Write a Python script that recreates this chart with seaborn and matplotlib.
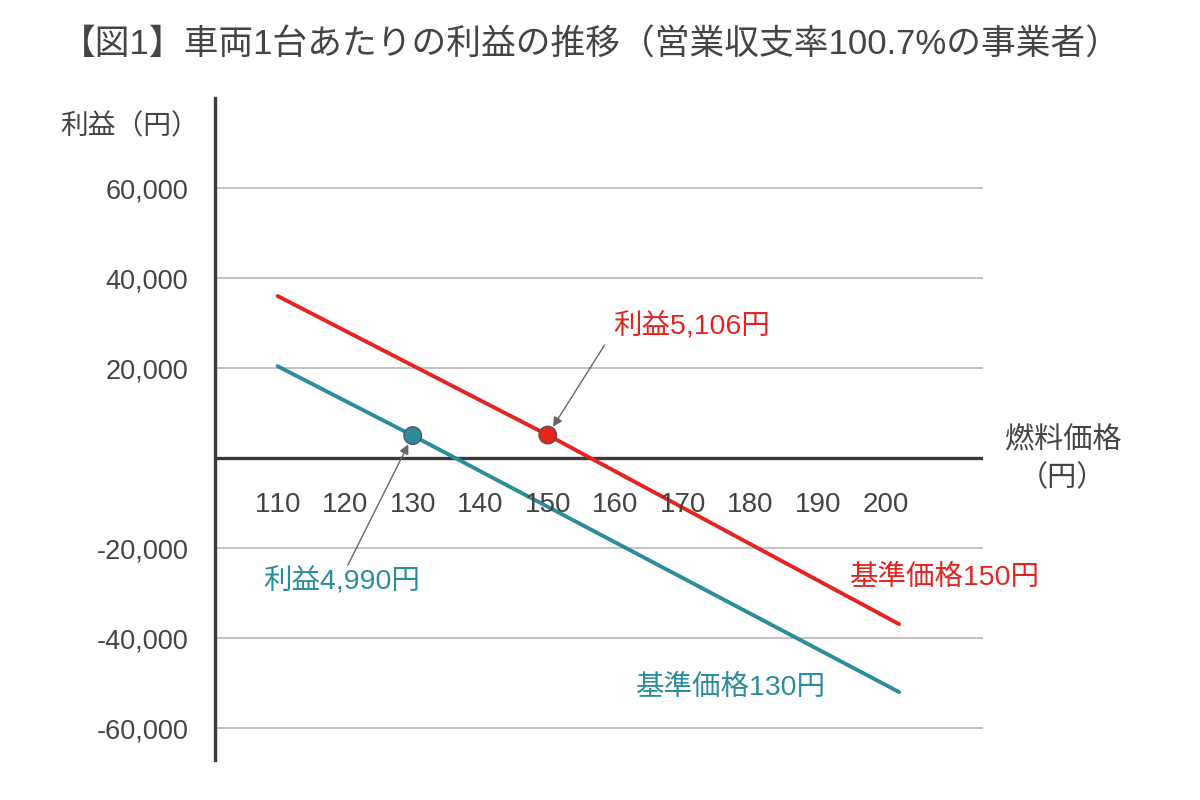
import pandas as pd
import matplotlib.pyplot as plt
import seaborn as sns

# data
fuel_red = [110, 150, 202]
profit_red = [36000, 5106, -36900]
fuel_teal = [110, 130, 202]
profit_teal = [20400, 4990, -52000]

point_x = [150, 130]
point_y = [5106, 4990]
point_series = ['基準価格150円', '基準価格130円']

x_ticks = [110, 120, 130, 140, 150, 160, 170, 180, 190, 200]
y_ticks = [-60000, -40000, -20000, 20000, 40000, 60000]
y_tick_labels = ['-60,000', '-40,000', '-20,000', '20,000', '40,000', '60,000']

RED = '#e5231f'
TEAL = '#2b8c9c'
TXT = '#444444'

sns.set_style('white')
plt.rcParams['font.family'] = ['Liberation Sans', 'Noto Sans CJK JP', 'DejaVu Sans']
plt.rcParams['text.kerning_factor'] = 6

df = pd.concat([
    pd.DataFrame({'fuel': fuel_red, 'profit': profit_red, 'series': '基準価格150円'}),
    pd.DataFrame({'fuel': fuel_teal, 'profit': profit_teal, 'series': '基準価格130円'}),
])
pts = pd.DataFrame({'fuel': point_x, 'profit': point_y, 'series': point_series})
palette = {'基準価格150円': RED, '基準価格130円': TEAL}

fig = plt.figure(figsize=(12, 8), dpi=100)
ax = fig.add_axes([0.179, 0.05, 0.64, 0.8275])

# grid + zero line
for v in y_ticks:
    ax.axhline(v, color='#bdbdbd', lw=1.3, zorder=0)
ax.axhline(0, color='#3a3a3a', lw=2.4, zorder=1)

sns.lineplot(data=df, x='fuel', y='profit', hue='series', palette=palette,
             lw=2.8, legend=False, ax=ax, zorder=2)
sns.scatterplot(data=pts, x='fuel', y='profit', hue='series', palette=palette,
                s=160, edgecolor='#555555', linewidth=1.0, legend=False, ax=ax, zorder=3)

ax.set_xlim(100.7, 214.4)
ax.set_ylim(-67100, 80000)

ax.set_yticks(y_ticks)
ax.set_yticklabels(y_tick_labels)
ax.tick_params(axis='y', length=0, pad=19, labelsize=19.5, labelcolor=TXT)
ax.set_xticks([])
ax.set_xlabel('')
ax.set_ylabel('')

for x in x_ticks:
    ax.text(x, -10440, str(x), ha='center', va='center', fontsize=20, color=TXT)

for side in ['top', 'right', 'bottom']:
    ax.spines[side].set_visible(False)
ax.spines['left'].set_color('#3a3a3a')
ax.spines['left'].set_linewidth(2.4)

# annotations
ax.annotate('', xy=(150, 5106), xytext=(158.4, 25100),
            arrowprops=dict(arrowstyle='-|>', color='#666666', lw=1.0, shrinkA=0, shrinkB=7,
                            mutation_scale=14))
ax.text(171.3, 29100, '利益5,106円', ha='center', va='center', fontsize=20.5, color=RED)
ax.annotate('', xy=(130, 4990), xytext=(120.4, -23800),
            arrowprops=dict(arrowstyle='-|>', color='#666666', lw=1.0, shrinkA=0, shrinkB=7,
                            mutation_scale=14))
ax.text(119.5, -27600, '利益4,990円', ha='center', va='center', fontsize=20.5, color=TEAL)
ax.text(208.8, -26700, '基準価格150円', ha='center', va='center', fontsize=20.5, color=RED)
ax.text(177.1, -51100, '基準価格130円', ha='center', va='center', fontsize=20.5, color=TEAL)

fig.text(0.108, 0.841, '利益（円）', ha='center', va='center', fontsize=20, color=TXT)
fig.text(0.886, 0.449, '燃料価格', ha='center', va='center', fontsize=21, color=TXT)
fig.text(0.885, 0.4025, '（円）', ha='center', va='center', fontsize=21, color=TXT)
fig.text(0.492, 0.944, '【図1】車両1台あたりの利益の推移（営業収支率100.7%の事業者）',
         ha='center', va='center', fontsize=25, color=TXT)

fig.savefig('out.png', dpi=100)
plt.close(fig)
